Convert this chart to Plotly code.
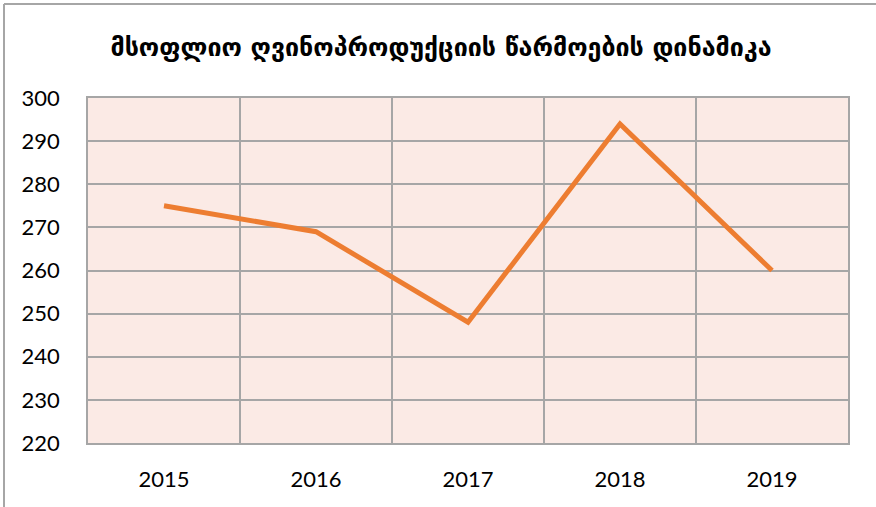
import plotly.graph_objects as go

years = ["2015", "2016", "2017", "2018", "2019"]
production = [275, 269, 248, 294, 260]
title_text = "მსოფლიო ღვინოპროდუქციის წარმოების დინამიკა"
y_ticks = [220, 230, 240, 250, 260, 270, 280, 290, 300]

W, H = 876, 507
ml, mr, mt, mb = 88, 28, 98, 64
pw, ph = W - ml - mr, H - mt - mb

fig = go.Figure()
fig.add_trace(go.Scatter(
    x=years, y=production, mode="lines",
    line=dict(color="#ED7D31", width=5),
    hoverinfo="x+y",
))

def px_to_paper_x(px):
    return (px - ml) / pw

def px_to_paper_y(py):
    return (H - mb - py) / ph

border = dict(color="#A6A6A6", width=2)
fig.add_shape(type="line", xref="paper", yref="paper",
              x0=px_to_paper_x(4), x1=px_to_paper_x(4),
              y0=px_to_paper_y(4), y1=px_to_paper_y(510), line=border)
fig.add_shape(type="line", xref="paper", yref="paper",
              x0=px_to_paper_x(4), x1=px_to_paper_x(880),
              y0=px_to_paper_y(4), y1=px_to_paper_y(4), line=border)

fig.update_layout(
    width=W, height=H,
    margin=dict(l=ml, r=mr, t=mt, b=mb),
    paper_bgcolor="white",
    plot_bgcolor="#FBEAE5",
    showlegend=False,
    title=dict(text=title_text, x=441 / W, xanchor="center", xref="container",
               y=1 - 47 / H, yanchor="middle",
               font=dict(family="DejaVu Sans", size=25, color="black", weight="bold")),
    font=dict(family="Lato", size=22, color="black"),
)
fig.update_xaxes(
    type="category", tickson="boundaries", range=[-0.5, 4.5],
    showgrid=True, gridcolor="#A6A6A6", gridwidth=1.5,
    showline=True, linecolor="#A6A6A6", linewidth=1.5, mirror=True,
    ticks="", ticklabelstandoff=16,
    tickfont=dict(family="Lato", size=22, color="black"),
)
fig.update_yaxes(
    range=[220, 300], tickvals=y_ticks,
    showgrid=True, gridcolor="#A6A6A6", gridwidth=1.5,
    showline=True, linecolor="#A6A6A6", linewidth=1.5, mirror=True,
    zeroline=False, ticks="", ticklabelstandoff=22,
    tickfont=dict(family="Lato", size=22, color="black"),
)

fig.write_html(
    "out.html",
    config={"displayModeBar": False},
    post_script="document.body.style.margin='0';document.body.style.overflow='hidden';",
)
